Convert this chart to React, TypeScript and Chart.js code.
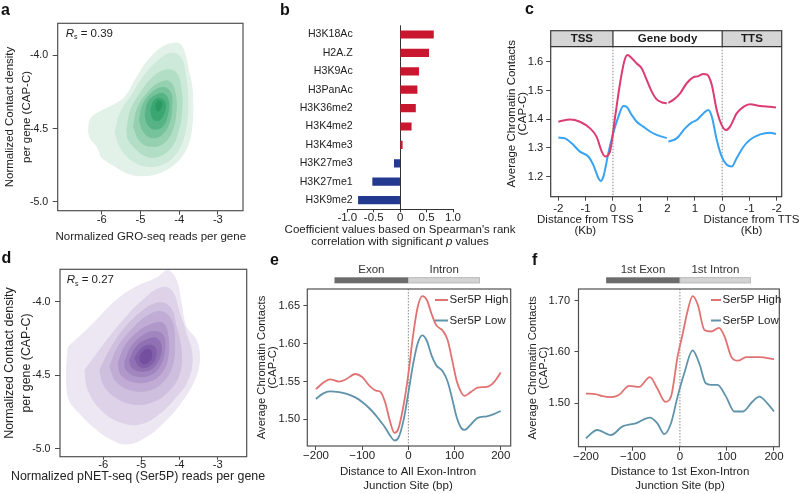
import React, { useEffect, useRef } from 'react';
import { Chart, registerables } from 'chart.js';

Chart.register(...registerables);
const FONT = "'Liberation Sans', Arial, Helvetica, sans-serif";
Chart.defaults.font.family = FONT;
Chart.defaults.font.size = 11.2;
Chart.defaults.color = '#222';

// ================= DATA =================
// Panel a – GRO-seq density contours (outer -> inner), [x, y]
const aXTicks = [-6, -5, -4, -3];
const aYTicks = [-5.0, -4.5, -4.0];
const aLevel1 = [[-6.345,-4.519],[-6.284,-4.429],[-6.043,-4.383],[-5.698,-4.338],[-5.397,-4.281],[-5.138,-4.168],[-4.836,-4.043],[-4.491,-3.952],[-4.190,-3.918],[-3.974,-3.923],[-3.845,-3.998],[-3.759,-4.100],[-3.672,-4.213],[-3.647,-4.349],[-3.672,-4.485],[-3.759,-4.599],[-3.931,-4.689],[-4.190,-4.757],[-4.578,-4.807],[-5.009,-4.821],[-5.353,-4.803],[-5.655,-4.757],[-5.871,-4.723],[-6.026,-4.689],[-6.060,-4.662],[-6.129,-4.621],[-6.284,-4.571]];
const aLevel2 = [[-5.655,-4.531],[-5.526,-4.395],[-5.224,-4.270],[-4.922,-4.145],[-4.578,-4.043],[-4.233,-3.986],[-3.974,-4.009],[-3.845,-4.122],[-3.784,-4.281],[-3.802,-4.440],[-3.905,-4.576],[-4.103,-4.678],[-4.405,-4.739],[-4.793,-4.757],[-5.181,-4.723],[-5.483,-4.644]];
const aLevel3 = [[-5.353,-4.508],[-5.25,-4.372],[-5.009,-4.259],[-4.707,-4.156],[-4.362,-4.100],[-4.078,-4.118],[-3.957,-4.224],[-3.931,-4.372],[-4.017,-4.508],[-4.190,-4.621],[-4.491,-4.685],[-4.836,-4.689],[-5.138,-4.633],[-5.310,-4.576]];
const aLevel4 = [[-5.181,-4.485],[-5.078,-4.361],[-4.836,-4.259],[-4.534,-4.190],[-4.250,-4.179],[-4.103,-4.259],[-4.086,-4.395],[-4.190,-4.519],[-4.405,-4.599],[-4.707,-4.621],[-5.009,-4.587]];
const aLevel5 = [[-5.026,-4.440],[-4.940,-4.338],[-4.707,-4.254],[-4.422,-4.218],[-4.233,-4.247],[-4.190,-4.349],[-4.276,-4.474],[-4.491,-4.549],[-4.75,-4.558],[-4.940,-4.512]];
const aLevel6 = [[-4.879,-4.406],[-4.793,-4.315],[-4.595,-4.270],[-4.388,-4.263],[-4.276,-4.315],[-4.302,-4.406],[-4.422,-4.481],[-4.647,-4.503],[-4.819,-4.467]];
const aLevel7 = [[-4.733,-4.372],[-4.647,-4.308],[-4.491,-4.293],[-4.362,-4.322],[-4.388,-4.390],[-4.509,-4.440],[-4.664,-4.435]];
const aLevel8 = [[-4.603,-4.345],[-4.543,-4.311],[-4.457,-4.322],[-4.474,-4.361],[-4.560,-4.379]];
const aLevels = [aLevel1, aLevel2, aLevel3, aLevel4, aLevel5, aLevel6, aLevel7, aLevel8];
const aColors = ['#e2f2e9', '#cce9da', '#b2dec6', '#95d1b1', '#76c39b', '#55b385', '#3ba671', '#2a9a62'];
const aRs = '0.39';

// Panel b – Spearman coefficients
const bMarks = ['H3K18Ac', 'H2A.Z', 'H3K9Ac', 'H3PanAc', 'H3K36me2', 'H3K4me2', 'H3K4me3', 'H3K27me3', 'H3K27me1', 'H3K9me2'];
const bCoef = [0.63, 0.54, 0.35, 0.32, 0.29, 0.21, 0.04, -0.11, -0.52, -0.79];
const bXTicks = [-1, -0.5, 0, 0.5, 1];

// Panel c – metagene profile (position 0..8 on a joined axis)
const cXTicks = [0, 1, 2, 3, 4, 5, 6, 7, 8];
const cXLabels = ['-2', '-1', '0', '1', '2', '1', '0', '-1', '-2'];
const cYTicks = [1.2, 1.3, 1.4, 1.5, 1.6];
const cRegions = ['TSS', 'Gene body', 'TTS'];
const cPinkX = [0,0.43,0.79,1.16,1.40,1.59,1.71,1.89,2.08,2.26,2.41,2.53,2.69,2.87,3.05,3.24,3.42,3.60,3.78,3.97,4.0,4.03,4.21,4.46,4.70,4.95,5.13,5.31,5.46,5.62,5.80,5.98,6.14,6.29,6.53,6.78,7.02,7.39,7.75,7.97];
const cPinkY = [1.391,1.399,1.391,1.368,1.339,1.287,1.270,1.287,1.409,1.525,1.600,1.623,1.612,1.594,1.577,1.536,1.496,1.469,1.459,1.455,null,1.457,1.467,1.490,1.525,1.546,1.550,1.557,1.554,1.519,1.432,1.380,1.362,1.374,1.420,1.443,1.452,1.446,1.443,1.441];
const cBlueX = [0,0.24,0.49,0.79,1.10,1.28,1.47,1.55,1.65,1.83,2.01,2.20,2.38,2.50,2.69,2.87,3.11,3.36,3.60,3.97,4.0,4.03,4.33,4.64,4.88,5.07,5.31,5.49,5.62,5.80,5.98,6.17,6.35,6.53,6.78,7.02,7.39,7.75,7.97];
const cBlueY = [1.336,1.333,1.316,1.287,1.270,1.241,1.194,1.185,1.200,1.281,1.351,1.409,1.446,1.443,1.414,1.391,1.374,1.357,1.345,1.334,null,1.322,1.333,1.368,1.388,1.397,1.420,1.432,1.409,1.328,1.270,1.241,1.235,1.264,1.304,1.328,1.347,1.353,1.348];

// Panel d – pNET-seq density contours (outer -> inner)
const dXTicks = [-6, -5, -4, -3];
const dYTicks = [-5.0, -4.5, -4.0];
const dLevel1 = [[-6.913,-4.306],[-6.522,-4.215],[-6.087,-4.102],[-5.652,-3.989],[-5.130,-3.898],[-4.609,-3.841],[-4.304,-3.789],[-4.087,-3.853],[-3.957,-4.011],[-3.826,-4.170],[-3.565,-4.261],[-3.478,-4.397],[-3.609,-4.533],[-3.913,-4.669],[-4.348,-4.805],[-4.870,-4.918],[-5.391,-4.968],[-5.826,-4.930],[-6.261,-4.850],[-6.609,-4.760],[-6.887,-4.669],[-6.957,-4.488]];
const dLevel2 = [[-6.478,-4.465],[-6.217,-4.374],[-5.826,-4.238],[-5.391,-4.102],[-4.957,-3.989],[-4.522,-3.909],[-4.217,-3.921],[-4.0,-4.079],[-3.826,-4.215],[-3.670,-4.374],[-3.783,-4.533],[-4.087,-4.646],[-4.522,-4.760],[-5.043,-4.832],[-5.565,-4.816],[-6.043,-4.737],[-6.391,-4.601]];
const dLevel3 = [[-6.087,-4.465],[-5.826,-4.329],[-5.478,-4.193],[-5.043,-4.079],[-4.609,-4.011],[-4.261,-4.034],[-4.087,-4.170],[-3.957,-4.329],[-4.0,-4.488],[-4.261,-4.601],[-4.696,-4.680],[-5.217,-4.696],[-5.696,-4.646],[-5.983,-4.567]];
const dLevel4 = [[-5.826,-4.442],[-5.609,-4.306],[-5.261,-4.193],[-4.870,-4.102],[-4.478,-4.068],[-4.217,-4.125],[-4.130,-4.261],[-4.174,-4.420],[-4.391,-4.533],[-4.783,-4.601],[-5.261,-4.601],[-5.652,-4.544]];
const dLevel5 = [[-5.609,-4.420],[-5.435,-4.306],[-5.130,-4.215],[-4.783,-4.159],[-4.435,-4.147],[-4.304,-4.238],[-4.304,-4.374],[-4.478,-4.488],[-4.826,-4.544],[-5.217,-4.544],[-5.522,-4.499]];
const dLevel6 = [[-5.435,-4.408],[-5.261,-4.306],[-5.0,-4.238],[-4.696,-4.204],[-4.435,-4.227],[-4.391,-4.329],[-4.522,-4.442],[-4.783,-4.499],[-5.130,-4.506],[-5.391,-4.465]];
const dLevel7 = [[-5.304,-4.397],[-5.130,-4.306],[-4.870,-4.261],[-4.609,-4.249],[-4.478,-4.306],[-4.565,-4.408],[-4.783,-4.465],[-5.087,-4.469],[-5.261,-4.442]];
const dLevel8 = [[-5.174,-4.385],[-5.0,-4.317],[-4.783,-4.295],[-4.626,-4.317],[-4.652,-4.397],[-4.826,-4.442],[-5.043,-4.442]];
const dLevel9 = [[-5.043,-4.374],[-4.913,-4.329],[-4.765,-4.329],[-4.739,-4.385],[-4.870,-4.420],[-5.0,-4.415]];
const dLevels = [dLevel1, dLevel2, dLevel3, dLevel4, dLevel5, dLevel6, dLevel7, dLevel8, dLevel9];
const dColors = ['#ece7f2', '#ddd2e8', '#cfbfdf', '#c0acd5', '#b098ca', '#a085bf', '#9072b4', '#8160a9', '#744f9f'];
const dRs = '0.27';

// Panel e – all exon-intron junctions
const eXTicks = [-200, -100, 0, 100, 200];
const eYTicks = [1.5, 1.55, 1.6, 1.65];
const eX = [-200,-185,-170,-150,-135,-115,-100,-85,-70,-60,-50,-40,-30,-22,-10,0,10,20,30,40,50,60,75,85,95,105,115,122,135,150,170,185,200];
const eHigh = [1.540,1.548,1.553,1.550,1.553,1.560,1.556,1.545,1.538,1.536,1.522,1.498,1.482,1.487,1.520,1.560,1.610,1.648,1.663,1.658,1.640,1.625,1.617,1.605,1.578,1.550,1.535,1.531,1.536,1.542,1.543,1.549,1.562];
const eLow = [1.527,1.534,1.537,1.536,1.534,1.529,1.523,1.515,1.505,1.497,1.489,1.479,1.472,1.475,1.500,1.535,1.572,1.600,1.611,1.604,1.585,1.572,1.563,1.550,1.527,1.502,1.488,1.486,1.493,1.502,1.504,1.507,1.511];
const eBar = [-160, 0, 155];
const eBarLabels = ['Exon', 'Intron'];

// Panel f – first exon-intron junction
const fXTicks = [-200, -100, 0, 100, 200];
const fYTicks = [1.5, 1.6, 1.7];
const fHighX = [-200,-180,-165,-147,-130,-108,-87,-64,-48,-31,-19,-5,6,16,27,38,52,66,83,95,109,123,141,169,200];
const fHigh = [1.519,1.518,1.514,1.512,1.516,1.534,1.532,1.551,1.529,1.503,1.513,1.591,1.636,1.679,1.709,1.692,1.643,1.640,1.647,1.630,1.591,1.583,1.590,1.590,1.586];
const fLowX = [-200,-176,-147,-122,-94,-64,-48,-33,-19,-5,9,27,41,55,66,80,98,116,134,154,169,185,200];
const fLow = [1.432,1.448,1.438,1.455,1.461,1.472,1.461,1.440,1.461,1.513,1.558,1.603,1.578,1.539,1.536,1.536,1.513,1.484,1.484,1.503,1.513,1.501,1.484];
const fBar = [-157, 0, 151];
const fBarLabels = ['1st Exon', '1st Intron'];

const seriesNames = ['Ser5P High', 'Ser5P Low'];

// ================= STYLE HELPERS =================
const INK = '#222';
const AXIS = '#4a4a4a';
const RED_B = '#c8172f';
const BLUE_B = '#22398f';
const PINK = '#db3d72';
const SKY = '#38a3f2';
const HIGH = '#e07272';
const LOW = '#5f93ab';
const TITLE = 11.5;
const TICK = 11;

const base = { responsive: false, animation: false, devicePixelRatio: 1, events: [] as any[] };
const noPlug = { legend: { display: false }, tooltip: { enabled: false } };

function linAxis(min: number, max: number, vals: number[], fmt: (v: number) => string, fit: (s: any) => void, tl: number, pad: number, extra: any = {}, size = TICK) {
  return {
    type: 'linear', min, max, offset: false,
    afterBuildTicks: (s: any) => { s.ticks = vals.map((v) => ({ value: v })); },
    afterFit: fit,
    grid: { display: true, drawOnChartArea: false, drawTicks: true, tickLength: tl, tickColor: AXIS, tickWidth: 1 },
    border: { display: false },
    ticks: { autoSkip: false, maxRotation: 0, padding: pad, color: INK, font: { size, lineHeight: 1 }, callback: (v: number) => fmt(v) },
    ...extra,
  };
}
const fitW = (w: number) => (s: any) => { s.width = w; };
const fitH = (h: number) => (s: any) => { s.height = h; };
const dashFmt = (v: number) => (v < 0 ? '\u2212' + Math.abs(v) : String(v));

const framePlugin = (color = '#505050', lw = 1.2) => ({
  id: 'frame',
  afterDatasetsDraw(chart: any) {
    const { ctx, chartArea: a } = chart;
    ctx.save();
    ctx.strokeStyle = color; ctx.lineWidth = lw;
    ctx.strokeRect(a.left, a.top, a.right - a.left, a.bottom - a.top);
    ctx.restore();
  },
});

type Run = { t: string; italic?: boolean; bold?: boolean; size?: number; dy?: number };
type TItem = { runs: Run[]; x: number; y: number; align?: 'left' | 'center' | 'right'; baseline?: CanvasTextBaseline; color?: string };
function drawRuns(ctx: CanvasRenderingContext2D, it: TItem) {
  const f = (r: Run) => `${r.italic ? 'italic ' : ''}${r.bold ? 'bold ' : ''}${r.size ?? TITLE}px ${FONT}`;
  let total = 0;
  for (const r of it.runs) { ctx.font = f(r); total += ctx.measureText(r.t).width; }
  let cx = it.align === 'left' ? it.x : it.align === 'right' ? it.x - total : it.x - total / 2;
  ctx.textAlign = 'left';
  ctx.textBaseline = it.baseline ?? 'middle';
  ctx.fillStyle = it.color ?? INK;
  for (const r of it.runs) { ctx.font = f(r); ctx.fillText(r.t, cx, it.y + (r.dy ?? 0)); cx += ctx.measureText(r.t).width; }
}
const textPlugin = (ox: number, oy: number, items: TItem[]) => ({
  id: 'texts',
  afterDraw(chart: any) {
    const ctx = chart.ctx;
    ctx.save();
    for (const it of items) drawRuns(ctx, { ...it, x: it.x - ox, y: it.y - oy });
    ctx.restore();
  },
});
const T = (t: string, x: number, y: number, size?: number): TItem => ({ runs: [{ t, size }], x, y });

const zeroLine = {
  id: 'zeroLine',
  beforeDatasetsDraw(chart: any) {
    const { ctx, chartArea: a, scales: { x } } = chart;
    const px = x.getPixelForValue(0);
    ctx.save();
    ctx.strokeStyle = '#8a8a8a'; ctx.lineWidth = 1; ctx.setLineDash([1.5, 1.5]);
    ctx.beginPath(); ctx.moveTo(px, a.top); ctx.lineTo(px, a.bottom); ctx.stroke();
    ctx.restore();
  },
};

const legendPlugin = (ox: number, oy: number, x0: number, x1: number, ys: number[], colors: string[]) => ({
  id: 'legendBox',
  afterDraw(chart: any) {
    const ctx = chart.ctx;
    ctx.save();
    seriesNames.forEach((n, i) => {
      ctx.strokeStyle = colors[i]; ctx.lineWidth = 2;
      ctx.beginPath(); ctx.moveTo(x0 - ox, ys[i] - oy); ctx.lineTo(x1 - ox, ys[i] - oy); ctx.stroke();
      drawRuns(ctx, { runs: [{ t: n }], x: x1 + 1.5 - ox, y: ys[i] - oy, align: 'left' });
    });
    ctx.restore();
  },
});

const barPlugin = (bar: number[], labels: string[], barTop: number, labelY: number, oy: number) => ({
  id: 'segBar',
  afterDraw(chart: any) {
    const { ctx, scales: { x } } = chart;
    const p = bar.map((v) => x.getPixelForValue(v));
    const y0 = barTop - oy;
    ctx.save();
    ctx.fillStyle = '#6c6c6c'; ctx.fillRect(p[0], y0, p[1] - p[0], 6);
    ctx.fillStyle = '#d3d3d3'; ctx.fillRect(p[1], y0, p[2] - p[1], 6);
    ctx.strokeStyle = '#b5b5b5'; ctx.lineWidth = 0.8; ctx.strokeRect(p[1], y0 + 0.4, p[2] - p[1] - 0.4, 5.2);
    drawRuns(ctx, { runs: [{ t: labels[0] }], x: (p[0] + p[1]) / 2, y: labelY - oy, color: '#333' });
    drawRuns(ctx, { runs: [{ t: labels[1] }], x: (p[1] + p[2]) / 2, y: labelY - oy, color: '#333' });
    ctx.restore();
  },
});

function contourSets(levels: number[][][], colors: string[]) {
  return levels
    .map((lv, i) => ({
      data: [...lv, lv[0]].map(([x, y]) => ({ x, y })),
      fill: 'shape',
      backgroundColor: colors[i],
      borderColor: colors[i],
      borderWidth: 1,
      pointRadius: 0,
      tension: 0.4,
    }))
    .reverse();
}
const mkLine = (xs: number[], ys: (number | null)[], color: string, w = 2) => ({
  data: xs.map((x, i) => ({ x, y: ys[i] })),
  borderColor: color, borderWidth: w, pointRadius: 0, fill: false,
  cubicInterpolationMode: 'monotone', spanGaps: false,
});

// ================= CHART CONFIGS =================
function densityConfig(levels: number[][][], colors: string[], ox: number, oy: number, area: any, cw: number, ch: number,
  xr: number[], yr: number[], xTicks: number[], yTicks: number[], xtl: number, xpad: number, rs: string, rsPos: number[],
  title: string, titlePos: number[], titleSize: number) {
  return {
    type: 'line',
    data: { datasets: contourSets(levels, colors) },
    options: {
      ...base,
      layout: { padding: { left: 0, top: area.t - oy, right: ox + cw - area.r, bottom: 0 } },
      plugins: noPlug,
      scales: {
        x: linAxis(xr[0], xr[1], xTicks, (v) => String(v), fitH(oy + ch - area.b), xtl, xpad, {}, 11.2),
        y: linAxis(yr[0], yr[1], yTicks, (v) => v.toFixed(1), fitW(area.l - ox), 5, 4.5, {
          title: { display: true, text: ['Normalized Contact density', 'per gene (CAP-C)'], color: INK, font: { size: titleSize, lineHeight: 16.7 / titleSize }, padding: { top: 1.65, bottom: 0 } },
        }, 10.6),
      },
    },
    plugins: [
      framePlugin(),
      textPlugin(ox, oy, [
        { runs: [{ t: 'R', italic: true, size: 11.5 }, { t: 's', size: 7, dy: 2.5 }, { t: ' = ' + rs, size: 11.5 }], x: rsPos[0], y: rsPos[1], align: 'left', baseline: 'alphabetic' },
        T(title, titlePos[0], titlePos[1], titleSize),
      ]),
    ],
  };
}

const makeA = () => densityConfig(aLevels, aColors, 0, 0, { l: 57.7, t: 23.3, r: 243, b: 210.7 }, 256, 250,
  [-7.14, -2.35], [-5.06, -3.78], aXTicks, aYTicks, 4, 0, aRs, [65.7, 36.7], 'Normalized GRO-seq reads per gene', [150.8, 237], 11.5);

const makeD = () => densityConfig(dLevels, dColors, 0, 250, { l: 60, t: 269.3, r: 246.7, b: 456.7 }, 272, 244,
  [-7.13, -2.24], [-5.054, -3.78], dXTicks, dYTicks, 3, -0.8, dRs, [66.7, 283.3], 'Normalized pNET-seq (Ser5P) reads per gene', [138, 476.5], 12.4);

// category labels for b: right-aligned slightly past the axis start, like the original
const bLabelPlugin = {
  id: 'bLabels',
  afterDraw(chart: any) {
    const { ctx, chartArea: a, scales: { y } } = chart;
    ctx.save();
    (chart.data.labels as string[]).forEach((lab, i) => {
      drawRuns(ctx, { runs: [{ t: lab, size: 10.6 }], x: a.left + 5.4, y: y.getPixelForValue(i), align: 'right' });
    });
    ctx.restore();
  },
};

const makeB = () => ({
  type: 'bar',
  data: {
    labels: bMarks,
    datasets: [{ data: bCoef, backgroundColor: bCoef.map((v) => (v >= 0 ? RED_B : BLUE_B)), barThickness: 7.5, borderWidth: 0 }],
  },
  options: {
    ...base,
    indexAxis: 'y',
    layout: { padding: { left: 0, top: 25.3, right: 79, bottom: 0 } },
    plugins: noPlug,
    scales: {
      x: {
        type: 'linear', min: -1, max: 1,
        afterBuildTicks: (s: any) => { s.ticks = bXTicks.map((v) => ({ value: v })); },
        afterFit: fitH(40.7),
        grid: {
          display: true, drawOnChartArea: true, drawTicks: true, tickLength: 3,
          color: (c: any) => (c.tick && c.tick.value === 0 ? '#333' : 'rgba(0,0,0,0)'),
          tickColor: '#333', lineWidth: 1,
        },
        border: { display: true, color: '#333', width: 1 },
        ticks: { autoSkip: false, maxRotation: 0, padding: 0, color: INK, font: { size: 11.5, lineHeight: 1 }, callback: (v: number) => (v === 0 ? '0' : v.toFixed(1)) },
      },
      y: {
        afterFit: fitW(85.3),
        grid: { display: false, drawTicks: false, tickLength: 0 }, border: { display: false },
        ticks: { display: false },
      },
    },
  },
  plugins: [
    bLabelPlugin,
    textPlugin(262, 0, [
      T("Coefficient values based on Spearman's rank", 400, 230),
      { runs: [{ t: 'correlation with significant ' }, { t: 'p', italic: true }, { t: ' values' }], x: 400, y: 241.5 },
    ]),
  ],
});

const cHeader = {
  id: 'cHeader',
  beforeDatasetsDraw(chart: any) {
    const { ctx, chartArea: a, scales: { x } } = chart;
    const x1 = x.getPixelForValue(2), x2 = x.getPixelForValue(6);
    const hb = a.top + 16;
    ctx.save();
    ctx.strokeStyle = '#8a8a8a'; ctx.lineWidth = 1; ctx.setLineDash([1.5, 1.5]);
    [x1, x2].forEach((px) => { ctx.beginPath(); ctx.moveTo(px, hb); ctx.lineTo(px, a.bottom); ctx.stroke(); });
    ctx.restore();
  },
  afterDatasetsDraw(chart: any) {
    const { ctx, chartArea: a, scales: { x } } = chart;
    const x1 = x.getPixelForValue(2), x2 = x.getPixelForValue(6);
    const top = a.top, hb = a.top + 16;
    ctx.save();
    ctx.fillStyle = '#d5d5d5';
    ctx.fillRect(a.left, top, x1 - a.left, 16);
    ctx.fillRect(x2, top, a.right - x2, 16);
    ctx.fillStyle = '#fff';
    ctx.fillRect(x1, top, x2 - x1, 16);
    ctx.strokeStyle = '#333'; ctx.lineWidth = 1.2;
    ctx.beginPath();
    ctx.moveTo(a.left, hb); ctx.lineTo(a.right, hb);
    ctx.moveTo(x1, top); ctx.lineTo(x1, hb);
    ctx.moveTo(x2, top); ctx.lineTo(x2, hb);
    ctx.stroke();
    const mids = [(a.left + x1) / 2, (x1 + x2) / 2, (x2 + a.right) / 2];
    cRegions.forEach((r, i) => drawRuns(ctx, { runs: [{ t: r, bold: true, size: 11.5 }], x: mids[i], y: top + 8.2, color: '#1a1a1a' }));
    ctx.restore();
  },
};

const makeC = () => ({
  type: 'line',
  data: { datasets: [mkLine(cPinkX, cPinkY, PINK, 2), mkLine(cBlueX, cBlueY, SKY, 2)] },
  options: {
    ...base,
    layout: { padding: { left: 0, top: 30.7, right: 18.3, bottom: 0 } },
    plugins: noPlug,
    scales: {
      x: linAxis(-0.28, 8.18, cXTicks, (v) => cXLabels[cXTicks.indexOf(v)], fitH(53.3), 4, 2.7, {}, 11.5),
      y: linAxis(1.13, 1.708, cYTicks, (v) => v.toFixed(1), fitW(54.7), 4.5, 2.9, {
        title: { display: true, text: ['Average Chromatin Contacts', '(CAP-C)'], color: INK, font: { size: TITLE, lineHeight: 11.6 / TITLE }, padding: { top: 9.9, bottom: 0 } },
      }, 11.2),
    },
  },
  plugins: [
    cHeader,
    framePlugin('#3a3a3a', 1.2),
    textPlugin(496, 0, [T('Distance from TSS', 585.3, 219.5), T('(Kb)', 585.3, 231), T('Distance from TTS', 751.5, 219.5), T('(Kb)', 751.5, 231)]),
  ],
});

function junctionConfig(ox: number, oy: number, cw: number, ch: number, area: any, xr: number[], yr: number[], xTicks: number[], yTicks: number[],
  high: any, low: any, bar: number[], barLabels: string[], titleLines: string[], titleX: number, ytPad: number, ypad: number, legX: number[]) {
  return {
    type: 'line',
    data: { datasets: [high, low] },
    options: {
      ...base,
      layout: { padding: { left: 0, top: area.t - oy, right: ox + cw - area.r, bottom: 0 } },
      plugins: noPlug,
      scales: {
        x: linAxis(xr[0], xr[1], xTicks, dashFmt, fitH(oy + ch - area.b), 4, 0, {}, 11.5),
        y: linAxis(yr[0], yr[1], yTicks, (v) => v.toFixed(2), fitW(area.l - ox), 4, ypad, {
          title: { display: true, text: ['Average Chromatin Contacts', '(CAP-C)'], color: INK, font: { size: 11.2, lineHeight: 10.5 / 11.2 }, padding: { top: ytPad, bottom: 0 } },
        }, 11),
      },
    },
    plugins: [
      zeroLine,
      framePlugin('#505050', 1.2),
      barPlugin(bar, barLabels, 277.3, 270, oy),
      legendPlugin(ox, oy, legX[0], legX[1], [300, 320.5], [HIGH, LOW]),
      textPlugin(ox, oy, [T(titleLines[0], titleX, 471.7), T(titleLines[1], titleX, 486)]),
    ],
  };
}

const makeE = () => junctionConfig(255, 250, 270, 244, { l: 307.3, t: 289, r: 510.7, b: 446 }, [-218.8, 221.6], [1.4647, 1.6725], eXTicks, eYTicks,
  mkLine(eX, eHigh, HIGH, 1.8), mkLine(eX, eLow, LOW, 1.8), eBar, eBarLabels, ['Distance to All Exon-Intron', 'Junction Site (bp)'], 408, 1.75, 3.3, [435, 448]);

const makeF = () => junctionConfig(522, 250, 278, 244, { l: 578.5, t: 289, r: 779.3, b: 446.7 }, [-215.7, 211.3], [1.4154, 1.7228], fXTicks, fYTicks,
  mkLine(fHighX, fHigh, HIGH, 1.8), mkLine(fLowX, fLow, LOW, 1.8), fBar, fBarLabels, ['Distance to 1st Exon-Intron', 'Junction Site (bp)'], 680, 5.75, 4.5, [711, 721]);

// ================= COMPONENTS =================
function ChartBox({ x, y, w, h, make }: { x: number; y: number; w: number; h: number; make: () => any }) {
  const ref = useRef<HTMLCanvasElement>(null);
  useEffect(() => {
    const chart = new Chart(ref.current as HTMLCanvasElement, make());
    return () => chart.destroy();
  }, []);
  return <canvas ref={ref} width={w} height={h} style={{ position: 'absolute', left: x, top: y, width: w, height: h }} />;
}

const letters = [
  { t: 'a', x: 1, y: 1.5 },
  { t: 'b', x: 280, y: 1.5 },
  { t: 'c', x: 525, y: 0.5 },
  { t: 'd', x: 1.5, y: 250 },
  { t: 'e', x: 270, y: 251.5 },
  { t: 'f', x: 532, y: 251.5 },
];

export default function App() {
  return (
    <div style={{ position: 'absolute', left: 0, top: 0, width: 800, height: 494, background: '#fff', overflow: 'hidden', fontFamily: FONT }}>
      <ChartBox x={0} y={0} w={256} h={250} make={makeA} />
      <ChartBox x={262} y={0} w={270} h={250} make={makeB} />
      <ChartBox x={496} y={0} w={304} h={250} make={makeC} />
      <ChartBox x={0} y={250} w={272} h={244} make={makeD} />
      <ChartBox x={255} y={250} w={270} h={244} make={makeE} />
      <ChartBox x={522} y={250} w={278} h={244} make={makeF} />
      {letters.map((l) => (
        <div key={l.t} style={{ position: 'absolute', left: l.x, top: l.y, fontWeight: 'bold', fontSize: 16, lineHeight: '16px', color: '#111' }}>{l.t}</div>
      ))}
    </div>
  );
}
